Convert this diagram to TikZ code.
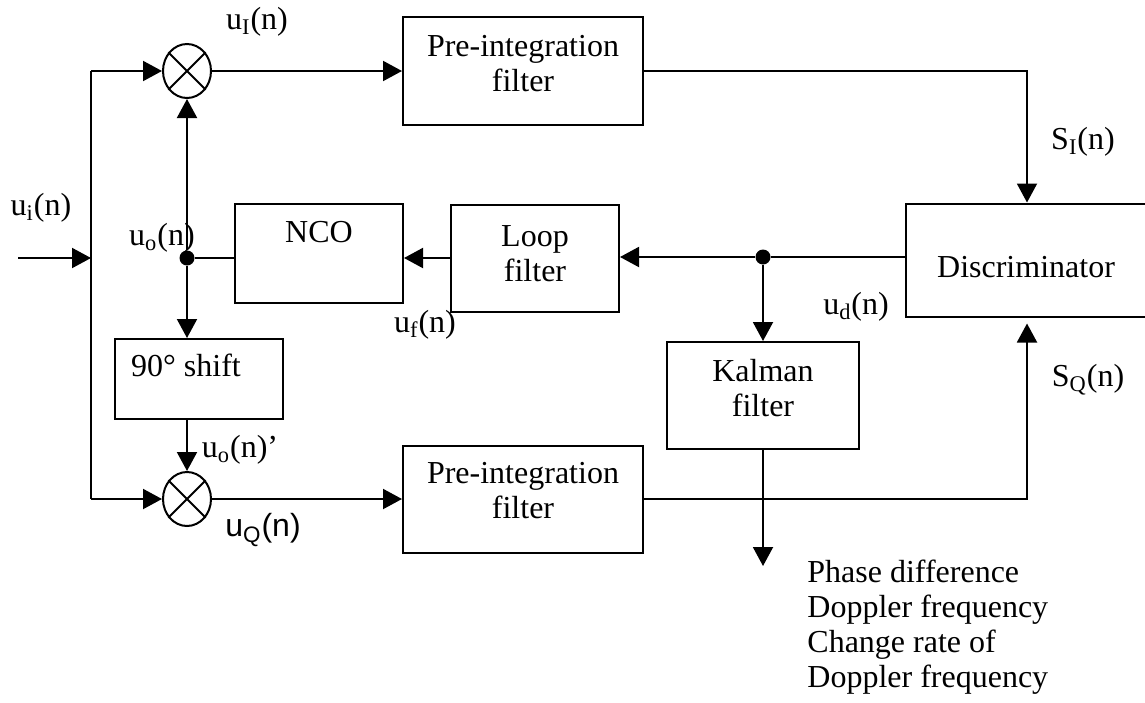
\documentclass[tikz,border=0pt]{standalone}
\usepackage{fontspec}
\setmainfont{Liberation Serif}
\newfontfamily\arialfont{Liberation Sans}
\usetikzlibrary{arrows.meta,shapes.geometric,positioning}
\newcommand{\sigsub}[1]{\textsubscript{#1}}
\tikzset{
  block/.style={draw,line width=1pt,inner sep=0pt},
  mixer/.style={ellipse,draw,line width=1pt,minimum width=24pt,minimum height=27pt,inner sep=0pt},
  dot/.style={circle,fill,inner sep=0pt,minimum size=7.5pt},
  wire/.style={line width=1pt},
  sig/.style={wire,-{Triangle[length=9.5pt,width=10pt]}},
  lbl/.style={inner sep=0pt,font=\fontsize{16}{17.5}\selectfont,align=center},
}

\begin{document}
\begin{tikzpicture}[x=0.5pt,y=-0.5pt]
    \useasboundingbox (0,0) rectangle (1145,702);

    % blocks
    \node [block,minimum width=120pt,minimum height=54pt] (pretop) at (523,71) {};
    \node [block,minimum width=120pt,minimum height=53.5pt] (prebot) at (523,499) {};
    \node [block,minimum width=84pt,minimum height=49.5pt] (nco) at (319,253.5) {};
    \node [block,minimum width=84pt,minimum height=53.5pt] (loop) at (535,258.5) {};
    \node [block,minimum width=84pt,minimum height=40pt] (shift) at (199,379) {};
    \node [block,minimum width=96pt,minimum height=53.5pt] (kalman) at (763,395.5) {};
    \node [block,minimum width=120pt,minimum height=56.5pt] (disc) at (1026,260) {};

    \node [lbl,yshift=3.75pt] (pretopt) at (pretop) {Pre-integration\\filter};
    \node [lbl,yshift=4pt] (prebott) at (prebot) {Pre-integration\\filter};
    \node [lbl,yshift=10.75pt] (ncot) at (nco) {NCO};
    \node [lbl,yshift=2.5pt] (loopt) at (loop) {Loop\\filter};
    \node [lbl,xshift=-6.5pt,yshift=7pt] (shiftt) at (shift) {90° shift};
    \node [lbl,yshift=3.5pt] (kalmant) at (kalman) {Kalman\\filter};
    \node [lbl,yshift=-3.5pt] (disct) at (disc) {Discriminator};

    % mixers and junctions
    \node [mixer] (mixtop) at (187,71) {};
    \node [mixer] (mixbot) at (187,499) {};
    \foreach \m in {mixtop,mixbot}
      \draw [wire] (\m.45) -- (\m.225) (\m.135) -- (\m.315);
    \node [dot] (jnco) at (187,258) {};
    \node [dot] (jdisc) at (763,257) {};

    \coordinate (in) at (18,258);
    \coordinate (busin) at (91,258);
    \coordinate (bustop) at (91,71);
    \coordinate (busbot) at (91,499);
    \coordinate (sitop) at (1027,71);
    \coordinate (sqbot) at (1027,499);
    \coordinate (kout) at (763,566);

    % input and I/Q branches
    \draw [sig] (in) -- (busin);
    \draw [wire] (bustop) -- (busbot);
    \draw [sig] (bustop) -- (mixtop.west);
    \draw [sig] (busbot) -- (mixbot.west);
    \draw [sig] (mixtop.east) -- (pretop.west);
    \draw [sig] (mixbot.east) -- (prebot.west);
    \draw [sig] (pretop.east) -- (sitop) -- (sitop |- disc.north);
    \draw [sig] (prebot.east) -- (sqbot) -- ([yshift=-3pt]sqbot |- disc.south);

    % loop
    \draw [wire] (disc.west |- jdisc) -- (jdisc);
    \draw [sig] (jdisc) -- (jdisc -| loop.east);
    \draw [sig] (jdisc) -- (kalman.north);
    \draw [sig] (kalman.south) -- (kout);
    \draw [sig] (loop.west |- jnco) -- (nco.east |- jnco);
    \draw [wire] (nco.west |- jnco) -- (jnco);
    \draw [sig] (jnco) -- (mixtop.south);
    \draw [sig] (jnco) -- (jnco |- shift.north);
    \draw [sig] (jnco |- shift.south) -- (mixbot.north);

    % labels
    \node [lbl] (lui) at (41,208) {u\sigsub{i}(n)};
    \node [lbl] (luI) at (257,22) {u\sigsub{I}(n)};
    \node [lbl] (luo) at (162,238) {u\sigsub{o}(n)};
    \node [lbl] (luop) at (240,450) {u\sigsub{o}(n)’};
    \node [lbl,font=\fontsize{16}{17.5}\selectfont\arialfont] (luQ) at (263,530) {u\sigsub{Q}(n)};
    \node [lbl] (luf) at (425,325) {u\sigsub{f}(n)};
    \node [lbl] (lud) at (856,307) {u\sigsub{d}(n)};
    \node [lbl] (lsI) at (1083,142) {S\sigsub{I}(n)};
    \node [lbl] (lsQ) at (1088,380) {S\sigsub{Q}(n)};
    \node [lbl,align=left,anchor=west] (lout) at (807,627.5)
      {Phase difference\\Doppler frequency\\Change rate of\\Doppler frequency};
\end{tikzpicture}
\end{document}
